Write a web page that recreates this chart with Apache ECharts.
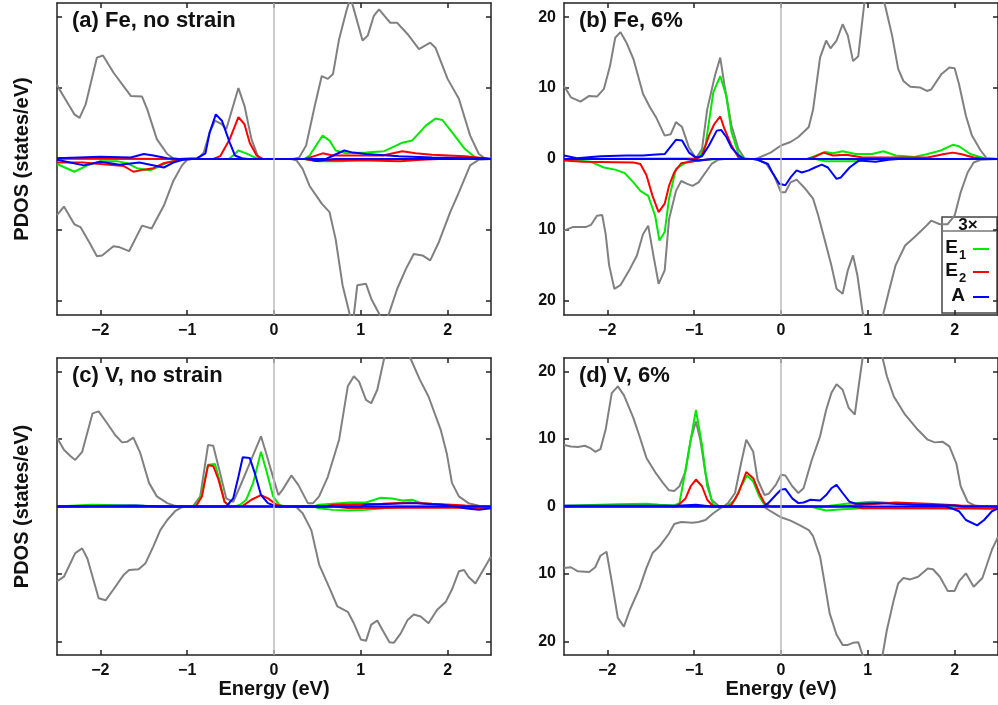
<!DOCTYPE html>
<html>
<head>
<meta charset="utf-8">
<script src="https://cdn.jsdelivr.net/npm/echarts@6/dist/echarts.min.js"></script>
<style>
  html, body { margin: 0; padding: 0; background: #fff; }
  #chart { width: 998px; height: 705px; }
</style>
</head>
<body>
<div id="chart"></div>
<script>
// tick positions
const energyTicks = [-2, -1, 0, 1, 2]
const dosTicks = [-20, -10, 0, 10, 20]

// (a) Fe, no strain  -- [energy, PDOS], spin down negative
const feNoTotUp = [[-2.5,10.5],[-2.49,10.2],[-2.3,6.3],[-2.24,5.8],[-2.17,7.7],[-2.04,14.3],[-1.97,14.6],[-1.85,12.2],[-1.65,8.9],[-1.52,8.8],[-1.46,7.0],[-1.35,2.8],[-1.23,0.7],[-1.16,0.1],[-1.1,0],[-0.88,0],[-0.81,0.9],[-0.74,3.8],[-0.68,5.4],[-0.6,4.9],[-0.55,4.2],[-0.41,10.0],[-0.34,7.5],[-0.26,2.8],[-0.18,0.2],[-0.12,0],[0.22,0],[0.29,0.2],[0.37,1.9],[0.47,7.5],[0.55,11.7],[0.62,11.3],[0.68,12.0],[0.75,16.9],[0.83,20.7],[0.88,22.8],[0.92,21.1],[1.02,16.7],[1.08,17.4],[1.15,20.2],[1.21,21.1],[1.34,19.2],[1.42,19.2],[1.54,17.6],[1.67,15.5],[1.8,16.4],[1.86,15.7],[2.0,11.3],[2.13,8.5],[2.26,3.3],[2.36,0.7],[2.43,0.1],[2.5,0]]
const feNoTotDn = [[-2.5,-7.9],[-2.42,-6.7],[-2.3,-9.2],[-2.23,-9.6],[-2.13,-11.7],[-2.04,-13.7],[-1.98,-13.6],[-1.85,-12.3],[-1.79,-12.4],[-1.67,-13.0],[-1.52,-9.4],[-1.41,-9.8],[-1.27,-6.6],[-1.16,-3.1],[-1.06,-0.9],[-1.0,-0.1],[-0.95,0],[0.2,0],[0.26,-0.2],[0.33,-1.4],[0.41,-3.8],[0.55,-6.3],[0.64,-7.5],[0.71,-11.3],[0.79,-17.8],[0.87,-21.8],[0.91,-23],[0.96,-17.8],[1.06,-17.6],[1.12,-19.7],[1.21,-21.8],[1.27,-23.5],[1.33,-21.6],[1.42,-18.3],[1.52,-15.5],[1.61,-13.4],[1.71,-13.6],[1.8,-14.3],[1.9,-11.7],[2.03,-7.5],[2.13,-4.7],[2.26,-0.9],[2.36,-0.1],[2.5,0]]
const feNoE1Up = [[-2.5,0],[-0.52,0],[-0.47,0.5],[-0.41,1.2],[-0.32,0.8],[-0.2,0.1],[-0.12,0],[0.35,0],[0.41,0.5],[0.56,3.3],[0.64,2.6],[0.71,1.2],[0.83,0.8],[1.06,0.9],[1.27,1.1],[1.48,2.3],[1.59,2.6],[1.75,4.7],[1.86,5.7],[1.94,5.5],[2.05,3.8],[2.2,1.4],[2.32,0.2],[2.4,0],[2.5,0]]
const feNoE1Dn = [[-2.5,-0.7],[-2.3,-1.8],[-2.15,-0.9],[-2.0,-0.3],[-1.81,-0.3],[-1.69,-0.6],[-1.58,-1.3],[-1.43,-1.6],[-1.35,-1.2],[-1.23,-0.5],[-1.08,-0.1],[-1.0,0],[0.35,0],[0.5,-0.3],[0.8,-0.3],[1.0,-0.1],[1.1,0],[2.5,0]]
const feNoE2Up = [[-2.5,0.1],[-1.2,0],[-0.7,0],[-0.62,0.4],[-0.51,2.8],[-0.41,5.9],[-0.34,4.9],[-0.28,2.3],[-0.2,0.5],[-0.13,0],[0.35,0],[0.41,0.2],[0.56,0.8],[0.68,0.5],[1.25,0.5],[1.48,1.1],[1.63,0.8],[1.82,0.6],[2.2,0.4],[2.43,0.1],[2.5,0]]
const feNoE2Dn = [[-2.5,-0.5],[-2.2,-0.5],[-2.0,-0.7],[-1.73,-1.0],[-1.62,-1.8],[-1.5,-1.5],[-1.39,-1.3],[-1.27,-0.6],[-1.08,-0.1],[-1.0,0],[0.35,0],[0.45,-0.2],[1.1,-0.2],[1.45,-0.3],[1.7,-0.1],[1.9,0],[2.5,0]]
const feNoAUp = [[-2.5,0.1],[-2.0,0.3],[-1.65,0.2],[-1.5,0.7],[-1.39,0.5],[-1.23,0.1],[-1.1,0],[-0.89,0.1],[-0.79,0.8],[-0.74,3.8],[-0.67,6.3],[-0.6,5.4],[-0.51,2.3],[-0.45,0.5],[-0.37,0.1],[-0.3,0],[0.6,0],[0.7,0.6],[0.81,1.2],[0.91,0.9],[1.06,0.7],[1.44,0.4],[1.82,0.2],[2.4,0.1],[2.5,0]]
const feNoADn = [[-2.5,-0.1],[-2.19,-0.9],[-2.0,-0.4],[-1.78,-0.8],[-1.55,-0.5],[-1.27,-1.2],[-1.16,-0.5],[-1.05,-0.1],[-0.95,0],[0.4,0],[0.49,-0.3],[0.6,-0.1],[0.7,0],[2.5,0]]

// (b) Fe, 6%
const fe6TotUp = [[-2.5,10.3],[-2.42,8.7],[-2.31,8.1],[-2.21,8.9],[-2.12,8.8],[-2.04,9.9],[-1.97,13.1],[-1.91,17.1],[-1.85,17.9],[-1.78,16.4],[-1.7,14.1],[-1.59,9.2],[-1.51,7.3],[-1.44,5.9],[-1.34,3.3],[-1.27,3.5],[-1.21,5.2],[-1.14,4.5],[-1.06,1.6],[-0.98,0.1],[-0.91,1.4],[-0.85,7.0],[-0.76,11.8],[-0.7,14.3],[-0.65,10.3],[-0.57,4.7],[-0.49,1.4],[-0.42,0.1],[-0.35,0],[-0.3,0],[-0.27,0.1],[-0.12,0.9],[0,1.9],[0.11,2.4],[0.2,3.1],[0.32,4.5],[0.37,7.0],[0.45,14.3],[0.52,16.7],[0.57,15.6],[0.64,16.7],[0.71,19.0],[0.77,17.4],[0.83,13.8],[0.89,14.5],[0.96,22],[1.05,24],[1.15,24],[1.2,21.6],[1.28,17.4],[1.35,12.7],[1.41,11.0],[1.49,10.2],[1.6,10.1],[1.68,9.6],[1.73,9.8],[1.85,12.0],[1.94,12.9],[2.0,12.8],[2.05,10.6],[2.13,6.1],[2.2,3.3],[2.3,1.2],[2.37,0.1],[2.5,0]]
const fe6TotDn = [[-2.5,-10.1],[-2.4,-9.6],[-2.25,-9.6],[-2.19,-9.3],[-2.12,-8.0],[-2.06,-7.9],[-2.02,-10.6],[-1.98,-15.0],[-1.92,-18.3],[-1.85,-17.8],[-1.74,-15.5],[-1.66,-13.6],[-1.59,-10.6],[-1.53,-9.4],[-1.47,-13.6],[-1.41,-17.6],[-1.34,-15.7],[-1.29,-8.5],[-1.21,-4.5],[-1.15,-3.1],[-1.08,-3.5],[-1.02,-3.8],[-0.95,-3.3],[-0.87,-1.9],[-0.8,-0.7],[-0.72,-0.1],[-0.65,0],[-0.32,0],[-0.27,-0.1],[-0.17,-0.7],[-0.08,-2.3],[0,-4.7],[0.05,-4.7],[0.11,-3.3],[0.18,-2.9],[0.28,-4.2],[0.37,-5.6],[0.43,-8.0],[0.51,-11.7],[0.58,-15.0],[0.64,-18.3],[0.71,-19.0],[0.77,-15.7],[0.83,-13.6],[0.88,-16.4],[0.94,-21.6],[1.0,-24],[1.12,-24],[1.18,-21.8],[1.24,-18.8],[1.32,-15.0],[1.43,-12.2],[1.54,-11.0],[1.66,-9.6],[1.73,-8.7],[1.83,-9.2],[1.92,-9.2],[2.0,-8.0],[2.07,-4.7],[2.15,-1.9],[2.22,-0.5],[2.3,-0.1],[2.5,0]]
const fe6E1Up = [[-2.5,0],[-0.95,0.1],[-0.87,1.9],[-0.78,9.4],[-0.7,11.7],[-0.63,8.9],[-0.57,3.8],[-0.49,0.7],[-0.42,0],[0.3,0],[0.34,0.2],[0.51,1.0],[0.6,0.8],[0.71,1.1],[0.86,0.7],[1.05,0.7],[1.18,1.1],[1.32,0.5],[1.54,0.3],[1.69,0.7],[1.84,1.2],[1.98,2.0],[2.05,1.8],[2.18,0.7],[2.34,0.1],[2.5,0]]
const fe6E1Dn = [[-2.5,0],[-2.19,-0.4],[-2.04,-1.2],[-1.91,-1.5],[-1.8,-2.0],[-1.7,-3.3],[-1.62,-4.5],[-1.53,-5.2],[-1.45,-8.0],[-1.4,-11.5],[-1.34,-10.3],[-1.29,-5.6],[-1.21,-1.4],[-1.1,-0.5],[-0.95,-0.2],[-0.72,0],[0.4,0],[0.5,-0.3],[0.9,-0.3],[1.0,0],[2.5,0]]
const fe6E2Up = [[-2.5,0],[-0.97,0],[-0.91,0.5],[-0.83,3.3],[-0.77,4.9],[-0.7,6.0],[-0.65,4.2],[-0.57,1.9],[-0.49,0.2],[-0.42,0],[0.3,0],[0.37,0.2],[0.49,0.9],[0.6,0.5],[0.75,0.6],[0.94,0.2],[1.69,0.2],[1.88,0.7],[1.98,0.9],[2.07,0.7],[2.22,0.2],[2.37,0],[2.5,0]]
const fe6E2Dn = [[-2.5,-0.2],[-2.28,-0.4],[-1.7,-0.5],[-1.62,-0.7],[-1.55,-2.3],[-1.48,-5.2],[-1.41,-7.5],[-1.34,-6.3],[-1.29,-3.8],[-1.23,-1.9],[-1.15,-0.6],[-0.95,-0.2],[-0.8,0],[2.5,0]]
const fe6AUp = [[-2.5,0.5],[-2.35,0.1],[-2.08,0.4],[-1.78,0.5],[-1.59,0.5],[-1.48,0.6],[-1.34,0.7],[-1.21,2.7],[-1.14,2.6],[-1.06,0.9],[-0.98,0.2],[-0.91,0.4],[-0.83,1.9],[-0.74,4.0],[-0.69,4.1],[-0.63,3.1],[-0.57,1.6],[-0.49,0.5],[-0.42,0],[2.5,0]]
const fe6ADn = [[-2.5,0],[-1.1,0],[-0.95,-0.2],[-0.8,0],[-0.32,0],[-0.27,-0.1],[-0.15,-0.7],[-0.1,-1.9],[-0.02,-3.5],[0.05,-3.7],[0.11,-2.6],[0.18,-1.6],[0.24,-1.9],[0.32,-1.6],[0.39,-1.2],[0.47,-0.8],[0.54,-1.2],[0.64,-2.8],[0.69,-2.6],[0.79,-1.2],[0.9,-0.2],[1.09,-0.4],[1.24,-0.1],[1.35,0],[2.5,0]]

// (c) V, no strain
const vNoTotUp = [[-2.5,10.2],[-2.42,8.4],[-2.34,7.4],[-2.29,6.9],[-2.21,8.1],[-2.09,13.8],[-2.02,14.1],[-1.92,12.3],[-1.83,10.6],[-1.75,9.5],[-1.69,9.6],[-1.62,10.2],[-1.54,7.9],[-1.44,3.5],[-1.35,1.5],[-1.23,0.5],[-1.14,0.1],[-1.08,0],[-0.98,0],[-0.93,0.1],[-0.85,1.5],[-0.76,9.1],[-0.7,9.0],[-0.62,4.9],[-0.55,1.2],[-0.47,0.7],[-0.39,3.0],[-0.28,6.4],[-0.15,10.4],[-0.09,7.9],[-0.03,5.2],[0.05,1.7],[0.1,2.5],[0.2,4.6],[0.28,3.2],[0.39,0.5],[0.45,0.5],[0.52,1.5],[0.62,4.4],[0.75,9.9],[0.85,17.8],[0.92,19.3],[0.98,18.5],[1.06,15.8],[1.12,15.3],[1.19,17.3],[1.27,22],[1.35,24.5],[1.5,24.5],[1.57,22],[1.68,18.8],[1.78,16.3],[1.92,11.4],[1.99,7.9],[2.05,3.5],[2.13,1.5],[2.24,0.5],[2.36,0.1],[2.5,0]]
const vNoTotDn = [[-2.5,-11.1],[-2.42,-10.4],[-2.29,-6.9],[-2.21,-6.2],[-2.15,-7.7],[-2.02,-13.6],[-1.94,-13.9],[-1.85,-12.3],[-1.73,-10.1],[-1.67,-9.4],[-1.56,-9.3],[-1.48,-8.4],[-1.39,-5.9],[-1.31,-3.5],[-1.23,-2.0],[-1.14,-0.7],[-1.06,-0.1],[-1.0,0],[0.2,0],[0.26,-0.1],[0.33,-1.0],[0.43,-3.5],[0.52,-8.6],[0.64,-12.1],[0.73,-14.8],[0.85,-15.6],[0.92,-17.3],[1.0,-19.7],[1.06,-19.9],[1.12,-17.5],[1.19,-16.9],[1.25,-18.3],[1.33,-20.1],[1.38,-20.2],[1.46,-18.8],[1.54,-16.8],[1.61,-16.0],[1.69,-16.3],[1.78,-17.3],[1.88,-15.3],[1.98,-14.1],[2.05,-12.3],[2.13,-9.6],[2.19,-9.4],[2.24,-10.4],[2.32,-11.4],[2.5,-7.4]]
const vNoE1Up = [[-2.5,0],[-2.1,0.25],[-1.5,0.1],[-0.95,0],[-0.89,0.25],[-0.83,2.0],[-0.76,6.2],[-0.68,6.3],[-0.62,3.5],[-0.57,0.7],[-0.51,0.1],[-0.45,0],[-0.39,0.25],[-0.32,1.0],[-0.24,3.5],[-0.15,8.1],[-0.09,5.4],[-0.01,1.5],[0.06,0.25],[0.12,0],[0.45,0],[0.52,0.25],[0.87,0.6],[1.06,0.6],[1.23,1.3],[1.36,1.2],[1.48,0.9],[1.59,1.0],[1.7,0.5],[1.9,0.25],[2.0,0],[2.5,0]]
const vNoE1Dn = [[-2.5,0],[0.45,0],[0.52,-0.25],[0.68,-0.5],[0.87,-0.6],[1.06,-0.5],[1.25,-0.25],[1.4,0],[2.5,0]]
const vNoE2Up = [[-2.5,0],[-0.9,0],[-0.83,1.5],[-0.76,6.1],[-0.7,6.0],[-0.64,4.0],[-0.57,0.7],[-0.51,0],[-0.36,0.1],[-0.26,1.0],[-0.15,1.7],[-0.07,1.2],[0.03,0.25],[0.1,0],[0.6,0],[0.68,0.25],[1.25,0.4],[1.56,0.6],[1.82,0.4],[2.2,0.15],[2.5,0]]
const vNoE2Dn = [[-2.5,0],[0.7,0],[0.87,-0.25],[1.5,-0.2],[2.2,-0.2],[2.36,-0.25],[2.5,-0.1]]
const vNoAUp = [[-2.5,0],[-1.6,0.15],[-1.3,0],[-0.55,0],[-0.47,1.2],[-0.41,4.4],[-0.36,7.3],[-0.28,7.2],[-0.22,4.9],[-0.15,1.7],[-0.07,0.5],[0.03,0],[1.0,0],[1.06,0.25],[1.59,0.5],[1.94,0.25],[2.1,0],[2.5,0]]
const vNoADn = [[-2.5,0],[2.1,0],[2.2,-0.25],[2.36,-0.5],[2.5,-0.25]]

// (d) V, 6%
const v6TotUp = [[-2.5,9.1],[-2.42,8.9],[-2.34,8.8],[-2.26,9.0],[-2.19,8.6],[-2.14,8.1],[-2.08,8.5],[-2.02,11.4],[-1.95,16.8],[-1.88,17.8],[-1.81,16.5],[-1.7,13.1],[-1.63,10.4],[-1.55,7.2],[-1.44,4.9],[-1.36,3.5],[-1.29,2.4],[-1.23,2.3],[-1.17,3.0],[-1.1,5.2],[-1.04,9.9],[-0.98,12.6],[-0.93,9.9],[-0.87,4.9],[-0.8,1.0],[-0.72,0.1],[-0.66,0],[-0.61,0.5],[-0.53,2.0],[-0.46,6.4],[-0.4,9.9],[-0.32,8.1],[-0.27,4.0],[-0.19,1.7],[-0.14,1.9],[-0.06,3.2],[0,4.7],[0.05,4.6],[0.13,3.0],[0.2,2.0],[0.26,2.7],[0.35,6.7],[0.45,10.4],[0.52,14.3],[0.58,16.8],[0.64,18.1],[0.71,17.3],[0.78,14.6],[0.85,13.6],[0.9,18.3],[0.94,22],[1.0,24.5],[1.1,24.5],[1.17,22],[1.22,19.3],[1.3,16.3],[1.43,13.6],[1.56,11.6],[1.69,9.9],[1.77,9.5],[1.86,9.6],[1.94,8.9],[2.02,6.4],[2.07,3.0],[2.15,0.7],[2.24,0.1],[2.5,0]]
const v6TotDn = [[-2.5,-9.1],[-2.42,-9.0],[-2.34,-9.6],[-2.21,-9.7],[-2.14,-9.0],[-2.08,-7.3],[-2.01,-6.7],[-1.95,-11.1],[-1.88,-16.5],[-1.81,-17.8],[-1.74,-15.3],[-1.63,-12.1],[-1.55,-9.1],[-1.48,-6.9],[-1.4,-5.9],[-1.29,-4.0],[-1.23,-2.6],[-1.15,-2.3],[-1.02,-2.4],[-0.95,-2.3],[-0.87,-2.0],[-0.78,-1.0],[-0.68,-0.1],[-0.62,0],[-0.24,0],[-0.19,-0.1],[-0.12,-0.7],[0,-1.6],[0.11,-2.1],[0.22,-2.8],[0.32,-3.5],[0.37,-4.4],[0.45,-7.4],[0.51,-11.9],[0.56,-15.8],[0.64,-19.0],[0.71,-20.5],[0.77,-20.5],[0.83,-20.2],[0.89,-20.1],[0.94,-22],[1.02,-24.5],[1.1,-24.5],[1.17,-22],[1.22,-18.3],[1.3,-13.8],[1.35,-11.4],[1.41,-10.6],[1.49,-10.8],[1.58,-10.4],[1.69,-9.2],[1.75,-9.3],[1.83,-10.4],[1.92,-12.5],[2.0,-12.5],[2.05,-11.1],[2.13,-9.9],[2.22,-11.9],[2.32,-10.6],[2.43,-6.4],[2.5,-4.5]]
const v6E1Up = [[-2.5,0.1],[-1.88,0.35],[-1.55,0.4],[-1.4,0.25],[-1.23,0.15],[-1.17,0.5],[-1.12,4.0],[-1.04,9.9],[-0.98,14.3],[-0.91,9.1],[-0.85,3.0],[-0.78,0.25],[-0.72,0],[-0.61,0.1],[-0.53,1.0],[-0.46,3.0],[-0.39,4.6],[-0.32,3.7],[-0.25,1.5],[-0.19,0.25],[-0.1,0],[0.5,0],[0.75,0.4],[1.05,0.7],[1.32,0.5],[1.69,0.15],[1.9,0],[2.5,0]]
const v6E1Dn = [[-2.5,0],[0.35,0],[0.41,-0.25],[0.52,-0.6],[0.71,-0.4],[0.94,-0.25],[1.2,-0.1],[1.8,-0.2],[2.0,-0.35],[2.1,-0.1],[2.5,0]]
const v6E2Up = [[-2.5,0],[-1.2,0],[-1.1,1.2],[-1.04,3.0],[-0.98,4.0],[-0.91,3.0],[-0.85,1.0],[-0.78,0],[-0.62,0],[-0.57,0.25],[-0.49,2.0],[-0.4,5.1],[-0.32,4.2],[-0.25,2.0],[-0.19,0.5],[-0.12,0],[0.7,0],[0.94,0.25],[1.32,0.6],[1.69,0.4],[2.07,0.15],[2.5,0]]
const v6E2Dn = [[-2.5,0],[0.8,0],[0.95,-0.25],[2.2,-0.3],[2.4,-0.35],[2.5,-0.3]]
const v6AUp = [[-2.5,0.1],[-1.2,0.1],[-0.98,0.25],[-0.8,0],[-0.2,0],[-0.14,0.6],[-0.06,1.7],[0,2.5],[0.05,2.6],[0.13,1.2],[0.2,0.5],[0.26,0.6],[0.34,1.0],[0.45,0.9],[0.52,1.7],[0.58,2.7],[0.64,3.2],[0.71,2.0],[0.79,0.7],[0.86,0.4],[1.13,0.5],[1.51,0.25],[2.0,0.15],[2.1,0],[2.5,0]]
const v6ADn = [[-2.5,0],[1.9,0],[1.96,-0.25],[2.05,-0.7],[2.13,-2.0],[2.26,-2.8],[2.34,-2.0],[2.43,-0.7],[2.5,-0.3]]

const panelTitles = ['(a) Fe, no strain', '(b) Fe, 6%', '(c) V, no strain', '(d) V, 6%']
const panelData = [
  [feNoTotUp, feNoTotDn, feNoE1Up, feNoE1Dn, feNoE2Up, feNoE2Dn, feNoAUp, feNoADn],
  [fe6TotUp, fe6TotDn, fe6E1Up, fe6E1Dn, fe6E2Up, fe6E2Dn, fe6AUp, fe6ADn],
  [vNoTotUp, vNoTotDn, vNoE1Up, vNoE1Dn, vNoE2Up, vNoE2Dn, vNoAUp, vNoADn],
  [v6TotUp, v6TotDn, v6E1Up, v6E1Dn, v6E2Up, v6E2Dn, v6AUp, v6ADn],
]
const legendNames = ['E', 'E', 'A']
const legendSubs = ['1', '2', '']

const GRAY = '#808080'
const GREEN = '#00e800'
const RED = '#ff0000'
const BLUE = '#0000ff'
const lineColors = [GRAY, GRAY, GREEN, GREEN, RED, RED, BLUE, BLUE]

const FONT = 'Liberation Sans, Arial, sans-serif'
const frame = { color: '#222', width: 1.5 }

const grids = [
  { left: 57, top: 3, width: 434, height: 312 },
  { left: 564, top: 3, width: 440, height: 312 },
  { left: 57, top: 358, width: 434, height: 297 },
  { left: 564, top: 358, width: 440, height: 297 },
]

const minus = v => (v < 0 ? '\u2212' : '') + Math.abs(v)

const xAxis = []
const yAxis = []
const series = []
const title = []

grids.forEach((g, i) => {
  const isRight = i % 2 === 1
  const isBottom = i >= 2
  xAxis.push({
    gridIndex: i, type: 'value', position: 'bottom', min: -2.5, max: 2.5,
    axisLine: { onZero: false, lineStyle: frame },
    axisTick: { inside: true, length: 5, customValues: energyTicks, lineStyle: frame },
    axisLabel: {
      customValues: energyTicks, formatter: minus, margin: 8,
      fontFamily: FONT, fontWeight: 'bold', fontSize: 16, color: '#111',
    },
    splitLine: { show: false },
    name: isBottom ? 'Energy (eV)' : '',
    nameLocation: 'middle', nameGap: 23,
    nameTextStyle: { fontFamily: FONT, fontWeight: 'bold', fontSize: 20, color: '#111' },
  })
  xAxis.push({
    gridIndex: i, type: 'value', position: 'top', min: -2.5, max: 2.5,
    axisLine: { onZero: false, lineStyle: frame },
    axisTick: { inside: true, length: 5, customValues: energyTicks, lineStyle: frame },
    axisLabel: { show: false },
    splitLine: { show: false },
  })
  yAxis.push({
    gridIndex: i, type: 'value', position: 'left', min: -22, max: 22,
    axisLine: { onZero: false, lineStyle: frame },
    axisTick: { inside: true, length: 5, customValues: dosTicks, lineStyle: frame },
    axisLabel: {
      show: isRight, customValues: dosTicks, formatter: v => String(Math.abs(v)), margin: 8,
      fontFamily: FONT, fontWeight: 'bold', fontSize: 16, color: '#111',
    },
    splitLine: { show: false },
    name: isRight ? '' : 'PDOS (states/eV)',
    nameLocation: 'middle', nameGap: 25,
    nameTextStyle: { fontFamily: FONT, fontWeight: 'bold', fontSize: 20, color: '#111' },
  })
  yAxis.push({
    gridIndex: i, type: 'value', position: 'right', min: -22, max: 22,
    axisLine: { onZero: false, lineStyle: frame },
    axisTick: { inside: true, length: 5, customValues: dosTicks, lineStyle: frame },
    axisLabel: { show: false },
    splitLine: { show: false },
  })

  panelData[i].forEach((d, k) => {
    const s = {
      type: 'line', xAxisIndex: 2 * i, yAxisIndex: 2 * i,
      data: d, symbol: 'none', silent: true,
      lineStyle: { color: lineColors[k], width: 2 },
    }
    // Fermi level marker
    if (k === 0) {
      s.markLine = {
        silent: true, symbol: 'none', label: { show: false },
        lineStyle: { color: '#bbbbbb', width: 1.5, type: 'solid' },
        data: [{ xAxis: 0 }],
      }
    }
    series.push(s)
  })

  title.push({
    text: panelTitles[i], left: g.left + 15, top: g.top + 6, padding: 0,
    textStyle: { fontFamily: FONT, fontWeight: 'bold', fontSize: 22, color: '#111', lineHeight: 24 },
  })
})

// legend box in panel (b)
const legendRows = [249, 272, 297]
const legendColors = [GREEN, RED, BLUE]
const graphic = [
  { type: 'rect', shape: { x: 942, y: 217, width: 55, height: 96 }, style: { fill: 'none', stroke: '#444', lineWidth: 1.5 } },
  { type: 'line', shape: { x1: 942, y1: 231, x2: 997, y2: 231 }, style: { stroke: '#777', lineWidth: 1.5 } },
  { type: 'text', x: 968, y: 225, style: { text: '3×', fontFamily: FONT, fontWeight: 'bold', fontSize: 17, fill: '#111', textAlign: 'center', textVerticalAlign: 'middle' } },
]
legendRows.forEach((y, k) => {
  const sub = legendSubs[k]
  graphic.push({ type: 'text', x: sub ? 958 : 965, y: y - 1, style: { text: legendNames[k], fontFamily: FONT, fontWeight: 'bold', fontSize: 19, fill: '#111', textAlign: 'right', textVerticalAlign: 'middle' } })
  if (sub) {
    graphic.push({ type: 'text', x: 959, y: y + 6, style: { text: sub, fontFamily: FONT, fontWeight: 'bold', fontSize: 13, fill: '#111', textAlign: 'left', textVerticalAlign: 'middle' } })
  }
  graphic.push({ type: 'line', shape: { x1: 973, y1: y, x2: 989, y2: y }, style: { stroke: legendColors[k], lineWidth: 2 } })
})

const chart = echarts.init(document.getElementById('chart'), null, { renderer: 'canvas' })
chart.setOption({
  animation: false,
  backgroundColor: '#fff',
  title,
  grid: grids,
  xAxis,
  yAxis,
  series,
  graphic,
})
</script>
</body>
</html>
